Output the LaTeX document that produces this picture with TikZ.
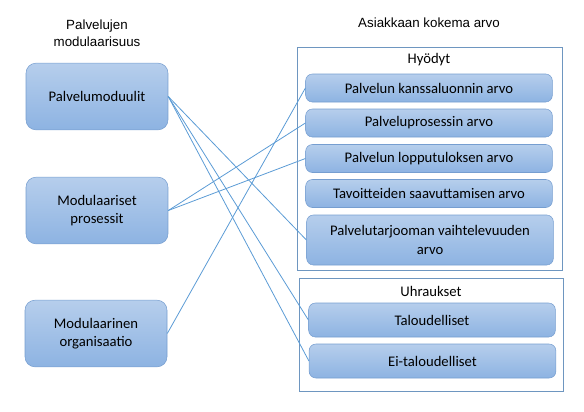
\documentclass[tikz,border=0pt]{standalone}
\usepackage{fontspec}
\setmainfont{Carlito}
\newfontfamily\arialfont{Liberation Sans}
\definecolor{boxtop}{RGB}{182,206,236}
\definecolor{boxbot}{RGB}{141,179,226}
\definecolor{boxline}{RGB}{118,158,208}
\definecolor{linkblue}{RGB}{91,155,213}
\definecolor{frameline}{RGB}{110,150,192}

\begin{document}
\begin{tikzpicture}[x=0.75pt, y=-0.75pt,
  modbox/.style={draw=boxline, top color=boxtop, bottom color=boxbot,
    rounded corners=7.5pt, minimum width=106.5pt, minimum height=50pt,
    align=center, inner sep=0pt, font=\fontsize{11}{14}\selectfont},
  valbox/.style={draw=boxline, top color=boxtop, bottom color=boxbot,
    rounded corners=5pt, minimum width=185pt, minimum height=21pt,
    align=center, inner sep=0pt, font=\fontsize{11}{14}\selectfont},
  frame/.style={draw=frameline, line width=0.6pt},
  link/.style={draw=linkblue, line width=0.6pt}]
\useasboundingbox (0,0) rectangle (584,411);

% titles
\node[align=center, font=\arialfont\fontsize{10}{13}\selectfont] (ttl) at (97,33)
  {Palvelujen\\modulaarisuus};
\node[font=\arialfont\fontsize{10}{13}\selectfont] (tta) at (429,23) {Asiakkaan kokema arvo};

% left side
\node[modbox] (pm) at (97,96.5) {Palvelumoduulit};
\node[modbox] (mp) at (97,210.5) {Modulaariset\\prosessit};
\node[modbox] (mo) at (96,333.5) {Modulaarinen\\organisaatio};

% benefits
\draw[frame] (297,47) rectangle (562,270);
\node[font=\fontsize{11}{14}\selectfont] (hy) at (429,60) {Hyödyt};
\node[valbox] (v1) at (429,88) {Palvelun kanssaluonnin arvo};
\node[valbox] (v2) at (429,123) {Palveluprosessin arvo};
\node[valbox] (v3) at (429,158.5) {Palvelun lopputuloksen arvo};
\node[valbox] (v4) at (429,193.5) {Tavoitteiden saavuttamisen arvo};
\node[valbox, minimum height=37.5pt] (v5) at (430,240) {Palvelutarjooman vaihtelevuuden\\arvo};

% sacrifices
\draw[frame] (299,278) rectangle (563,391);
\node[font=\fontsize{11}{14}\selectfont] (uh) at (431,291) {Uhraukset};
\node[valbox, minimum height=25.5pt] (ta) at (432,320) {Taloudelliset};
\node[valbox, minimum height=25.5pt] (ei) at (432.5,361) {Ei-taloudelliset};

% links
\draw[link] (pm.east) -- (v5.west);
\draw[link] (pm.east) -- (ta.west);
\draw[link] (pm.east) -- (ei.west);
\draw[link] (mp.east) -- (v2.west);
\draw[link] (mp.east) -- (v3.west);
\draw[link] (mo.east) -- (v1.west);
\end{tikzpicture}
\end{document}
